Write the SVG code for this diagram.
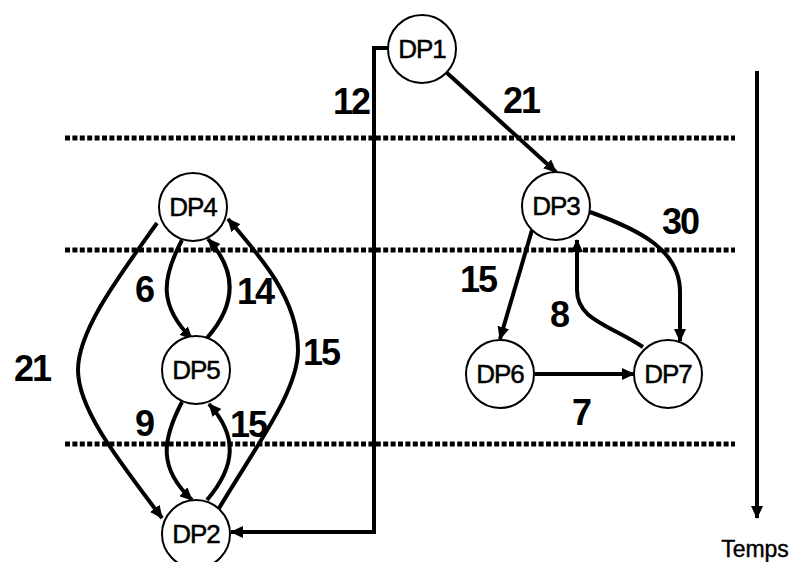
<svg xmlns="http://www.w3.org/2000/svg" width="792" height="562" viewBox="0 0 792 562">
<style>
.node circle{fill:#fff;stroke:#000;stroke-width:2}
.node text{font-family:"Liberation Sans",Arial,sans-serif;font-size:26px;letter-spacing:-1px;text-anchor:middle;fill:#000;stroke:#000;stroke-width:0.5}
.edge{fill:none;stroke:#000;stroke-width:4;marker-end:url(#ah)}
.lbl{font-family:"Liberation Sans",Arial,sans-serif;font-size:36px;letter-spacing:-2px;font-weight:bold;fill:#000}
.dot{stroke:#000;stroke-width:5;stroke-dasharray:5 2.4;fill:none}
</style>
<defs>
<marker id="ah" markerUnits="userSpaceOnUse" markerWidth="14" markerHeight="12" refX="12" refY="6" orient="auto">
<path d="M0,0 L13,6 L0,12 z" fill="#000"/>
</marker>
</defs>
<rect width="792" height="562" fill="#fff"/>
<g id="guides">
<line class="dot" x1="65" y1="138" x2="735" y2="138"/>
<line class="dot" x1="65" y1="250" x2="735" y2="250"/>
<line class="dot" x1="65" y1="444" x2="735" y2="444"/>
</g>
<g id="connectors">
<path class="edge" d="M388,48 L374,48 L374,532 L231,532"/>
<path class="edge" d="M446,72 L556,172"/>
<path class="edge" d="M590,212 C640,230 680,250 680,292 L680,341"/>
<path class="edge" d="M643,347 C610,325 577,320 577,290 L577,240"/>
<path class="edge" d="M532,230 L500,339"/>
<path class="edge" d="M535,374 L634,374"/>
<path class="edge" d="M182,240 C162,278 158,305 192,339"/>
<path class="edge" d="M207,338 C236,305 238,272 208,239"/>
<path class="edge" d="M182,402 C162,440 158,468 192,500"/>
<path class="edge" d="M207,500 C236,466 238,436 209,404"/>
<path class="edge" d="M157,223 C120,275 78,330 78,370 C78,410 120,462 162,518"/>
<path class="edge" d="M218,510 C260,440 298,390 298,350 C298,300 262,258 228,219"/>
<path class="edge" d="M757,71 L757,518"/>
</g>
<g id="DP1" class="node"><circle cx="422" cy="49" r="34"/><text x="422" y="58">DP1</text></g>
<g id="DP3" class="node"><circle cx="556" cy="206" r="34"/><text x="556" y="215">DP3</text></g>
<g id="DP4" class="node"><circle cx="193" cy="207" r="34"/><text x="193" y="216">DP4</text></g>
<g id="DP5" class="node"><circle cx="196" cy="370" r="34"/><text x="196" y="379">DP5</text></g>
<g id="DP2" class="node"><circle cx="196" cy="534" r="34"/><text x="196" y="543">DP2</text></g>
<g id="DP6" class="node"><circle cx="500" cy="374" r="34"/><text x="500" y="383">DP6</text></g>
<g id="DP7" class="node"><circle cx="668" cy="374" r="34"/><text x="668" y="383">DP7</text></g>
<g id="labels">
<text class="lbl" x="333" y="114">12</text>
<text class="lbl" x="503" y="113">21</text>
<text class="lbl" x="662" y="234">30</text>
<text class="lbl" x="460" y="292">15</text>
<text class="lbl" x="550" y="327">8</text>
<text class="lbl" x="572" y="425">7</text>
<text class="lbl" x="135" y="302">6</text>
<text class="lbl" x="237" y="304">14</text>
<text class="lbl" x="303" y="365">15</text>
<text class="lbl" x="135" y="436">9</text>
<text class="lbl" x="230" y="437">15</text>
<text class="lbl" x="14" y="381">21</text>
<text x="755" y="557" font-family="Liberation Sans, Arial, sans-serif" font-size="23" text-anchor="middle" stroke="#000" stroke-width="0.4">Temps</text>
</g>
</svg>
